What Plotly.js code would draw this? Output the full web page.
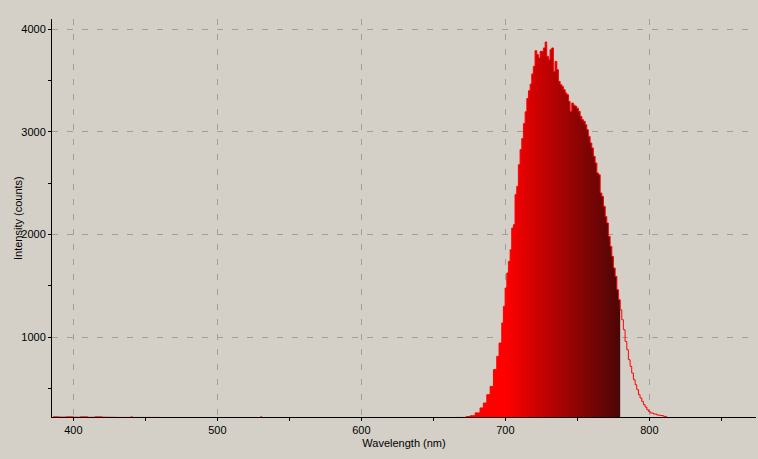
<!DOCTYPE html>
<html>
<head>
<meta charset="utf-8">
<script src="https://cdn.plot.ly/plotly-3.0.1.min.js"></script>
<style>html,body{margin:0;padding:0;background:#d4d0c8;}#chart{width:758px;height:459px;}</style>
</head>
<body>
<div id="chart"></div>
<script>
// Wavelength (nm) samples
const wavelengths = [386,390,395,400,405,410,415,420,425,430,440,441,460,500,530,531,560,600,640,665,
 672.7,675.5,679.0,682.4,684.7,687.1,689.4,691.7,694.0,695.6,697.5,698.6,699.8,701.0,702.1,703.3,
 704.4,705.6,706.7,707.9,709.0,710.2,711.4,712.5,713.7,714.9,716.0,717.2,718.3,719.4,720.6,721.8,
 722.9,724.1,725.3,726.4,727.6,728.7,729.9,731.0,732.2,733.3,734.5,735.7,736.8,738.0,739.2,740.3,
 741.5,742.6,743.8,744.9,746.1,747.2,748.4,749.6,750.7,751.9,753.1,754.2,755.4,756.5,757.6,758.8,
 760.0,761.1,762.3,763.5,764.6,765.8,767.0,768.1,769.3,770.4,771.5,772.7,773.9,775.0,776.2,777.4,
 778.5,779.7,780.8,781.9,783.1,784.3,785.4,786.6,787.7,788.9,790.1,791.2,792.4,793.5,794.7,795.8,
 797.0,798.2,799.3,800.5,802.8,805.1,807.4,809.7,812,850,874];
// Intensity (counts)
const counts = [226,223,226,222,226,221,226,222,221,220,226,220,218,216,226,219,217,218,216,220,
 228,236,264,312,360,441,522,685,814,944,1139,1301,1480,1626,1739,1853,
 2064,2096,2389,2469,2680,2827,2935,3080,3195,3325,3400,3465,3564,3638,3790,3752,
 3719,3784,3784,3817,3875,3735,3703,3800,3817,3589,3686,3606,3492,3460,3443,3411,
 3379,3362,3297,3200,3281,3260,3249,3230,3200,3151,3119,3103,3070,3021,2956,2892,
 2843,2762,2697,2600,2583,2405,2372,2275,2177,2113,1983,1885,1788,1675,1593,1463,
 1366,1268,1171,1074,960,879,782,717,652,587,538,490,441,409,376,344,
 321,295,279,263,253,243,238,230,218,216,218];
// Filled (shaded) band of the spectrum, nm
const fillStart = 672, fillEnd = 780;
const gradientStart = 700, gradientStop = 780;

const xTickVals = [400,500,600,700,800];
const yTickVals = [1000,2000,3000,4000];

const fx = [], fy = [];
wavelengths.forEach((w,i)=>{ if(w>=fillStart && w<=fillEnd){ fx.push(w); fy.push(counts[i]); } });

const traces = [
 {x: fx, y: fy, type:'scatter', mode:'lines', line:{width:0, shape:'hv', color:'rgba(0,0,0,0)'},
  fill:'tozeroy',
  fillgradient:{type:'horizontal', start:gradientStart, stop:gradientStop,
    colorscale:[[0,'#ff0000'],[1,'#4a0606']]},
  hoverinfo:'skip', showlegend:false},
 {x: wavelengths, y: counts, type:'scatter', mode:'lines',
  line:{color:'#ff0000', width:1, shape:'hv'}, showlegend:false}
];

const gridColor = '#a09e9a';
const layout = {
 width:758, height:459,
 margin:{l:52, r:2, t:19, b:42},
 paper_bgcolor:'#d4d0c8', plot_bgcolor:'#d4d0c8',
 font:{family:'"Liberation Sans", Arial, sans-serif', size:11, color:'#000'},
 showlegend:false,
 xaxis:{range:[385.2,874], tickvals:xTickVals, ticktext:xTickVals.map(String),
  ticks:'outside', ticklen:3, tickcolor:'#000', showline:true, linecolor:'#000', linewidth:1,
  showgrid:true, gridcolor:gridColor, griddash:'6px,9px', gridwidth:1, zeroline:false,
  minor:{dtick:50, tick0:0, ticks:'outside', ticklen:3, tickcolor:'#000', showgrid:false},
  title:{text:'Wavelength (nm)', font:{size:11}, standoff:4}},
 yaxis:{range:[224,4099], tickvals:yTickVals, ticktext:yTickVals.map(String),
  ticks:'outside', ticklen:3, tickcolor:'#000', showline:true, linecolor:'#000', linewidth:1,
  showgrid:true, gridcolor:gridColor, griddash:'6px,9px', gridwidth:1, zeroline:false,
  minor:{dtick:500, tick0:0, ticks:'outside', ticklen:3, tickcolor:'#000', showgrid:false},
  title:{text:''}},
 annotations:[{text:'Intensity (counts)', xref:'paper', yref:'paper', x:(18-52)/704, y:0.5,
  xanchor:'center', yanchor:'middle', textangle:-90, showarrow:false, font:{size:11}}]
};

Plotly.newPlot('chart', traces, layout, {displayModeBar:false, staticPlot:true});
</script>
</body>
</html>
